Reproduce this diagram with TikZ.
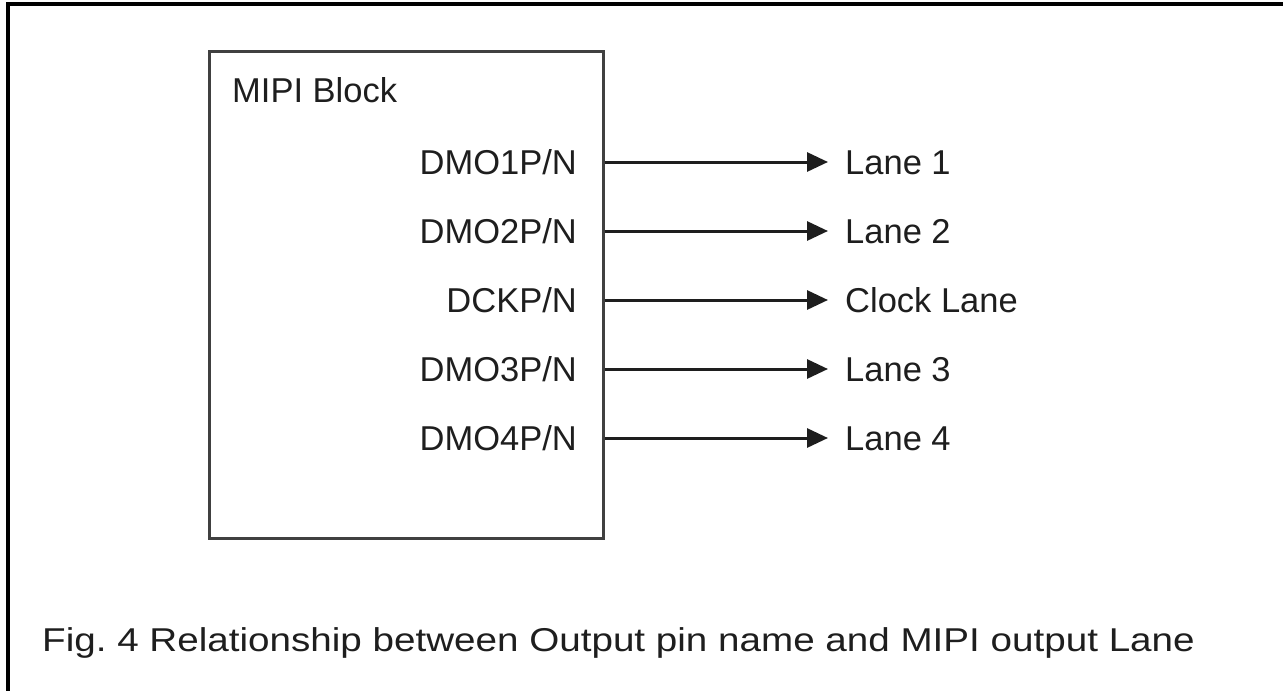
\documentclass[tikz,border=0pt]{standalone}
\usepackage{fontspec}
\setmainfont{Liberation Sans}
\usetikzlibrary{arrows.meta}
\definecolor{ink}{HTML}{1E1E1E}
\begin{document}
\begin{tikzpicture}[x=1pt,y=-1pt,
  pin/.style={anchor=base east,inner sep=0pt,text=ink,font=\fontsize{34.5}{40}\selectfont},
  lane/.style={anchor=base west,inner ysep=0pt,inner xsep=0pt,text=ink,font=\fontsize{34.5}{40}\selectfont},
  conn/.style={line width=3pt,draw=ink,-{Triangle[length=21pt,width=19pt]}},
  blockbox/.style={draw=ink!85,line width=2.5pt,inner sep=0pt}]
\useasboundingbox (0,0) rectangle (1283,691);
\fill[white] (0,0) rectangle (1283,691);
% outer frame (top and left only)
\draw[line width=4.5pt,black] (8,691) -- (8,4) -- (1283,4);
% block
\node[blockbox,minimum width=394pt,minimum height=487pt,anchor=north west] (blk) at (208,50) {};
\node[anchor=base west,inner sep=0pt,text=ink,font=\fontsize{34.5}{40}\selectfont] (title) at (232,102) {MIPI Block};
% pins
\node[pin] (p1) at (577,174) {DMO1P/N};
\node[pin] (p2) at (577,243) {DMO2P/N};
\node[pin] (p3) at (577,312) {DCKP/N};
\node[pin] (p4) at (577,381) {DMO3P/N};
\node[pin] (p5) at (577,450) {DMO4P/N};
% lanes
\node[lane] (l1) at (845,174) {Lane 1};
\node[lane] (l2) at (845,243) {Lane 2};
\node[lane] (l3) at (845,312) {Clock Lane};
\node[lane] (l4) at (845,381) {Lane 3};
\node[lane] (l5) at (845,450) {Lane 4};
\coordinate (t1) at (828,162);
\coordinate (t2) at (828,231);
\coordinate (t3) at (828,300);
\coordinate (t4) at (828,369);
\coordinate (t5) at (828,438);
\foreach \i in {1,...,5}{
  \draw[conn] (blk.east |- t\i) -- (t\i);
}
% caption
\node[anchor=base west,inner sep=0pt,text=ink,font=\fontsize{33}{40}\selectfont\addfontfeature{FakeStretch=1.17}\frenchspacing] (cap) at (42,651) {Fig. 4 Relationship between Output pin name and MIPI output Lane};
\end{tikzpicture}
\end{document}
